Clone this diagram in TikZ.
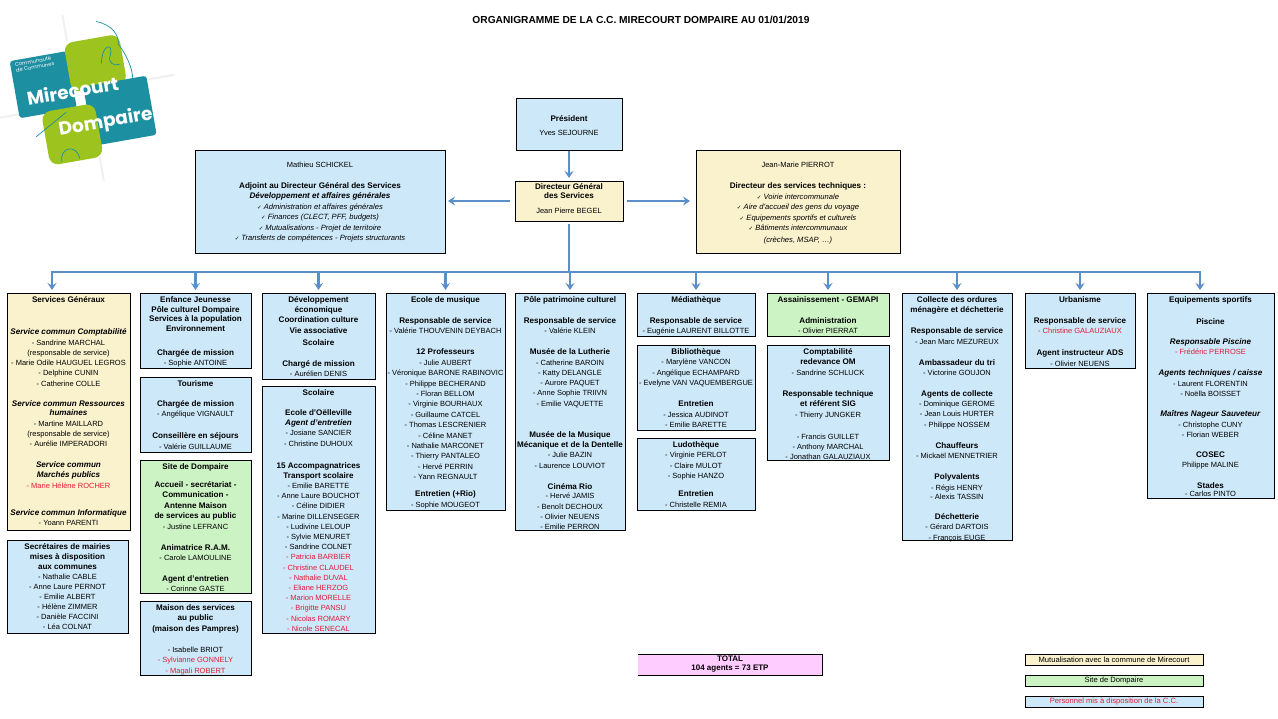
\documentclass[tikz,border=0pt]{standalone}
\usepackage{fontspec}
\setmainfont{Liberation Sans}
\newfontfamily\symf{DejaVu Sans}
\newfontfamily\logof{Poppins}
\usetikzlibrary{arrows.meta,calc}
\definecolor{bfill}{HTML}{CDE8F9}
\definecolor{yfill}{HTML}{FAF1CD}
\definecolor{gfill}{HTML}{CCF3C4}
\definecolor{pfill}{HTML}{FFCCFF}
\definecolor{rtxt}{HTML}{E31B36}
\definecolor{arr}{HTML}{5B8FC8}
\definecolor{logoteal}{HTML}{1C8FA1}
\definecolor{logolime}{HTML}{9DC41E}
\newcommand\Hd[1]{\textbf{#1}}
\newcommand\Bi[1]{\textbf{\textit{#1}}}
\newcommand\Nm[1]{{\fontsize{7.5}{10}\selectfont #1}}
\newcommand\Rn[1]{{\color{rtxt}\fontsize{7.5}{10}\selectfont #1}}
\newcommand\It[1]{{\fontsize{7.6}{10}\selectfont\itshape #1}}
\newcommand\Ck{{\symf\fontsize{5.5}{8}\selectfont ✓}}
\def\myoff{1.4}
\newcommand\Bx[8][10.4]{%
  \pgfmathsetmacro\mybw{#6-#4}%
  \pgfmathsetmacro\mybh{#7-#5}%
  \node[box,#3,minimum width=\mybw pt,minimum height=\mybh pt,anchor=north west] (#2) at (#4,#5) {};
  \node[txt,font=\fontsize{8.1}{#1}\selectfont,anchor=north] (#2t) at ($(#2.north)+(0,\myoff)$) {\rule{0pt}{8pt}#8};}
\begin{document}
\begin{tikzpicture}[x=1pt,y=-1pt,
  box/.style={draw=black,line width=0.8pt,inner sep=0pt,outer sep=0pt},
  bbox/.style={fill=bfill}, ybox/.style={fill=yfill}, gbox/.style={fill=gfill},
  txt/.style={inner sep=0pt,outer sep=0pt,align=center},
  busline/.style={draw=arr,line width=2.4pt},
  arrline/.style={busline,-{Stealth[length=7pt,width=9pt,inset=2.5pt]},shorten >=3pt},
  logoline/.style={draw=logoteal,line width=0.7pt}]
\fill[white] (0,0) rectangle (1278,719);
\useasboundingbox (0,0) rectangle (1278,719);

% ---------- logo ----------
\begin{scope}[shift={(83,97)},rotate=10]
  \draw[black!6,line width=2pt] (-92,6) -- (-66,6);
  \draw[black!6,line width=2pt] (68,-6) -- (94,-6);
  \draw[black!6,line width=2pt] (-6,-58) -- (-6,-84);
  \draw[black!6,line width=2pt] (6,62) -- (6,86);
  \fill[logoteal,rounded corners=3pt] (-66,-48) rectangle (-8,10);
  \fill[logolime,rounded corners=9pt] (-10,-56) rectangle (46,-6);
  \fill[logoteal,rounded corners=3pt] (2,-10) rectangle (66,50);
  \fill[logolime,rounded corners=9pt] (-44,8) rectangle (10,62);
  \draw[logoline] (26,-72) .. controls (42,-66) and (46,-54) .. (44,-46) .. controls (50,-34) and (54,-20) .. (52,-8);
  \draw[logoline] (24,-30) .. controls (28,-50) and (40,-48) .. (34,-36) .. controls (30,-30) and (36,-24) .. (42,-26);
  \draw[logoline] (-32,60) .. controls (-32,45) and (-14,45) .. (-14,60);
  \draw[logoline] (-53,31) -- (-19,12);
  \node[transform shape,text=white,font=\logof\fontsize{5.2}{6}\selectfont,align=left,inner sep=0pt] (lcom) at (-42,-41) {Communauté\\de Communes};
  \node[transform shape,text=white,font=\logof\bfseries\fontsize{18.5}{18.5}\selectfont,inner sep=0pt] (lmire) at (-9,-8) {Mirecourt};
  \node[transform shape,text=white,font=\logof\bfseries\fontsize{18.5}{18.5}\selectfont,inner sep=0pt] (ldomp) at (18,29) {Dompaire};
\end{scope}

% ---------- title ----------
\node[font=\bfseries\fontsize{10.2}{12}\selectfont,inner sep=0pt] (title) at (641,20) {ORGANIGRAMME DE LA C.C. MIRECOURT DOMPAIRE AU 01/01/2019};

% ---------- top ----------
\def\myoff{15.9}
\Bx{pres}{bbox}{516}{98}{622}{150}{\Hd{Président}\\[3.6pt]\Nm{Yves SEJOURNE}}
\def\myoff{0.9}
\Bx{dgs}{ybox}{515}{181}{623}{221}{\Hd{Directeur Général}\\[-1.4pt]\Hd{des Services}\\[4.6pt]\Nm{Jean Pierre BEGEL}}
\def\myoff{9.9}
\Bx{adj}{bbox}{195}{150}{445}{253}{\Nm{Mathieu SCHICKEL}\\[10.6pt]
\Hd{Adjoint au Directeur Général des Services}\\[-0.4pt]
\Bi{Développement et affaires générales}\\
\It{\Ck\ Administration et affaires générales}\\
\It{\Ck\ Finances (CLECT, PFF, budgets)}\\
\It{\Ck\ Mutualisations - Projet de territoire}\\
\It{\Ck\ Transferts de compétences - Projets structurants}}
\Bx{dst}{ybox}{696}{150}{900}{253}{\Nm{Jean-Marie PIERROT}\\[10.6pt]
\Hd{Directeur des services techniques :}\\
\It{\Ck\ Voirie intercommunale}\\
\It{\Ck\ Aire d'accueil des gens du voyage}\\
\It{\Ck\ Equipements sportifs et culturels}\\
\It{\Ck\ Bâtiments intercommunaux}\\[1.6pt]
\It{(crèches, MSAP, …)}}

\def\myoff{1.4}
% ---------- column 1 ----------
\Bx{sg}{ybox}{7}{293}{130}{530}{\Hd{Services Généraux}\\[22pt]
\Bi{Service commun Comptabilité}\\
\Nm{- Sandrine MARCHAL}\\[-0.5pt]
\Nm{(responsable de service)}\\[-0.5pt]
\Nm{- Marie Odile HAUGUEL LEGROS}\\[0.5pt]
\Nm{- Delphine CUNIN}\\
\Nm{- Catherine COLLE}\\[10pt]
\Bi{Service commun Ressources}\\[-1.5pt]
\Bi{humaines}\\
\Nm{- Martine MAILLARD}\\
\Nm{(responsable de service)}\\
\Nm{- Aurélie IMPERADORI}\\[10pt]
\Bi{Service commun}\\
\Bi{Marchés publics}\\
\Rn{- Marie Hélène ROCHER}\\[17.5pt]
\Bi{Service commun Informatique}\\[-1pt]
\Nm{- Yoann PARENTI}}
\Bx[10]{sec}{bbox}{7}{540}{128}{633}{\Hd{Secrétaires de mairies}\\
\Hd{mises à disposition}\\
\Hd{aux communes}\\
\Nm{- Nathalie CABLE}\\
\Nm{- Anne Laure PERNOT}\\
\Nm{- Emilie ALBERT}\\
\Nm{- Hélène ZIMMER}\\
\Nm{- Danièle FACCINI}\\
\Nm{- Léa COLNAT}}

% ---------- column 2 ----------
\Bx[9.7]{enf}{bbox}{140}{293}{251}{368}{\Hd{Enfance Jeunesse}\\
\Hd{Pôle culturel Dompaire}\\
\Hd{Services à la population}\\
\Hd{Environnement}\\[14.3pt]
\Hd{Chargée de mission}\\
\Nm{- Sophie ANTOINE}}
\Bx{tou}{bbox}{140}{377}{251}{452}{\Hd{Tourisme}\\[9.6pt]
\Hd{Chargée de mission}\\
\Nm{- Angélique VIGNAULT}\\[11.6pt]
\Hd{Conseillère en séjours}\\
\Nm{- Valérie GUILLAUME}}
\Bx{sdp}{gbox}{140}{460}{251}{593}{\Hd{Site de Dompaire}\\[7.6pt]
\Hd{Accueil - secrétariat -}\\
\Hd{Communication -}\\
\Hd{Antenne Maison}\\
\Hd{de services au public}\\
\Nm{- Justine LEFRANC}\\[10.6pt]
\Hd{Animatrice R.A.M.}\\
\Nm{- Carole LAMOULINE}\\[10.6pt]
\Hd{Agent d'entretien}\\
\Nm{- Corinne GASTE}}
\Bx{msp}{bbox}{140}{601}{251}{675}{\Hd{Maison des services}\\
\Hd{au public}\\
\Hd{(maison des Pampres)}\\[10.6pt]
\Nm{- Isabelle BRIOT}\\
\Rn{- Sylvianne GONNELY}\\
\Rn{- Magali ROBERT}}

% ---------- column 3 ----------
\Bx[10.3]{dev}{bbox}{262}{293}{375}{379}{\Hd{Développement}\\
\Hd{économique}\\
\Hd{Coordination culture}\\
\Hd{Vie associative}\\[1.5pt]
\Hd{Scolaire}\\[11.5pt]
\Hd{Chargé de mission}\\[-1pt]
\Nm{- Aurélien DENIS}}
\Bx[10.2]{sco}{bbox}{262}{386}{375}{633}{\Hd{Scolaire}\\[9.8pt]
\Hd{Ecole d'Oëlleville}\\
\Bi{Agent d'entretien}\\
\Nm{- Josiane SANCIER}\\
\Nm{- Christine DUHOUX}\\[11.8pt]
\Hd{15 Accompagnatrices}\\
\Hd{Transport scolaire}\\
\Nm{- Emilie BARETTE}\\
\Nm{- Anne Laure BOUCHOT}\\
\Nm{- Céline DIDIER}\\
\Nm{- Marine DILLENSEGER}\\
\Nm{- Ludivine LELOUP}\\
\Nm{- Sylvie MENURET}\\
\Nm{- Sandrine COLNET}\\
\Rn{- Patricia BARBIER}\\
\Rn{- Christine CLAUDEL}\\
\Rn{- Nathalie DUVAL}\\
\Rn{- Eliane HERZOG}\\
\Rn{- Marion MORELLE}\\
\Rn{- Brigitte PANSU}\\
\Rn{- Nicolas ROMARY}\\
\Rn{- Nicole SENECAL}}

% ---------- column 4 ----------
\Bx{mus}{bbox}{386}{293}{505}{510}{\Hd{Ecole de musique}\\[10.6pt]
\Hd{Responsable de service}\\
\Nm{- Valérie THOUVENIN DEYBACH}\\[10.6pt]
\Hd{12 Professeurs}\\
\Nm{- Julie AUBERT}\\
\Nm{- Véronique BARONE RABINOVIC}\\
\Nm{- Philippe BECHERAND}\\
\Nm{- Floran BELLOM}\\
\Nm{- Virginie BOURHAUX}\\
\Nm{- Guillaume CATCEL}\\
\Nm{- Thomas LESCRENIER}\\
\Nm{- Céline MANET}\\
\Nm{- Nathalie MARCONET}\\
\Nm{- Thierry PANTALEO}\\
\Nm{- Hervé PERRIN}\\
\Nm{- Yann REGNAULT}\\[6.6pt]
\Hd{Entretien (+Rio)}\\
\Nm{- Sophie MOUGEOT}}

% ---------- column 5 ----------
\Bx[10.3]{pat}{bbox}{515}{293}{625}{530}{\Hd{Pôle patrimoine culturel}\\[10.7pt]
\Hd{Responsable de service}\\
\Nm{- Valérie KLEIN}\\[10.7pt]
\Hd{Musée de la Lutherie}\\
\Nm{- Catherine BAROIN}\\
\Nm{- Katty DELANGLE}\\
\Nm{- Aurore PAQUET}\\
\Nm{- Anne Sophie TRIIVN}\\
\Nm{- Emilie VAQUETTE}\\[20.7pt]
\Hd{Musée de la Musique}\\
\Hd{Mécanique et de la Dentelle}\\
\Nm{- Julie BAZIN}\\
\Nm{- Laurence LOUVIOT}\\[10.7pt]
\Hd{Cinéma Rio}\\[-0.5pt]
\Nm{- Hervé JAMIS}\\
\Nm{- Benoît DECHOUX}\\
\Nm{- Olivier NEUENS}\\
\Nm{- Emilie PERRON}}

% ---------- column 6 ----------
\Bx{med}{bbox}{637}{293}{755}{336}{\Hd{Médiathèque}\\[10.6pt]
\Hd{Responsable de service}\\
\Nm{- Eugénie LAURENT BILLOTTE}}
\Bx{bib}{bbox}{637}{345}{755}{430}{\Hd{Bibliothèque}\\
\Nm{- Marylène VANCON}\\
\Nm{- Angélique ECHAMPARD}\\
\Nm{- Evelyne VAN VAQUEMBERGUE}\\[10.6pt]
\Hd{Entretien}\\
\Nm{- Jessica AUDINOT}\\
\Nm{- Emilie BARETTE}}
\Bx{lud}{bbox}{637}{438}{755}{510}{\Hd{Ludothèque}\\
\Nm{- Virginie PERLOT}\\
\Nm{- Claire MULOT}\\
\Nm{- Sophie HANZO}\\[7.6pt]
\Hd{Entretien}\\
\Nm{- Christelle REMIA}}

% ---------- column 7 ----------
\Bx{ass}{gbox}{767}{293}{889}{336}{\Hd{Assainissement - GEMAPI}\\[10.6pt]
\Hd{Administration}\\
\Nm{- Olivier PIERRAT}}
\Bx{cpt}{bbox}{767}{345}{889}{460}{\Hd{Comptabilité}\\
\Hd{redevance OM}\\
\Nm{- Sandrine SCHLUCK}\\[10.6pt]
\Hd{Responsable technique}\\
\Hd{et référent SIG}\\
\Nm{- Thierry JUNGKER}\\[11.6pt]
\Nm{- Francis GUILLET}\\
\Nm{- Anthony MARCHAL}\\
\Nm{- Jonathan GALAUZIAUX}}

% ---------- column 8 ----------
\Bx{col}{bbox}{902}{293}{1012}{540}{\Hd{Collecte des ordures}\\
\Hd{ménagère et déchetterie}\\[10.6pt]
\Hd{Responsable de service}\\
\Nm{- Jean Marc MEZUREUX}\\[10.6pt]
\Hd{Ambassadeur du tri}\\
\Nm{- Victorine GOUJON}\\[10pt]
\Hd{Agents de collecte}\\
\Nm{- Dominique GEROME}\\
\Nm{- Jean Louis HURTER}\\
\Nm{- Philippe NOSSEM}\\[10.6pt]
\Hd{Chauffeurs}\\
\Nm{- Mickaël MENNETRIER}\\[10.6pt]
\Hd{Polyvalents}\\
\Nm{- Régis HENRY}\\[-1pt]
\Nm{- Alexis TASSIN}\\[9.6pt]
\Hd{Déchetterie}\\
\Nm{- Gérard DARTOIS}\\
\Nm{- François EUGE}}

% ---------- column 9 ----------
\Bx{urb}{bbox}{1025}{293}{1135}{368}{\Hd{Urbanisme}\\[10.6pt]
\Hd{Responsable de service}\\
\Rn{- Christine GALAUZIAUX}\\[11.6pt]
\Hd{Agent instructeur ADS}\\
\Nm{- Olivier NEUENS}}

% ---------- column 10 ----------
\Bx{spo}{bbox}{1147}{293}{1274}{498}{\Hd{Equipements sportifs}\\[11.6pt]
\Hd{Piscine}\\[9.6pt]
\Bi{Responsable Piscine}\\
\Rn{- Frédéric PERROSE}\\[10.6pt]
\Bi{Agents techniques / caisse}\\
\Nm{- Laurent FLORENTIN}\\
\Nm{- Noëlla BOISSET}\\[9.6pt]
\Bi{Maîtres Nageur Sauveteur}\\
\Nm{- Christophe CUNY}\\
\Nm{- Florian WEBER}\\[9.6pt]
\Hd{COSEC}\\
\Nm{Philippe MALINE}\\[10pt]
\Hd{Stades}\\[-2.4pt]
\Nm{- Carlos PINTO}}

% ---------- connectors ----------
\draw[arrline,shorten <=1pt] (pres.south) -- (dgs.north);
\draw[arrline,shorten <=5pt] (dgs.west) -- (adj.east |- dgs.west);
\draw[arrline,shorten <=4pt,shorten >=6pt] (dgs.east) -- (dst.west |- dgs.east);
\coordinate (busL) at (52,272);
\coordinate (busR) at (1200,272);
\coordinate (busM) at (dgs.south |- 0,272);
\draw[busline,shorten <=3pt] (dgs.south) -- (busM);
\draw[busline,line cap=rect] (busL) -- (busR);
\draw[arrline] (busL) -- (busL |- sg.north);
\draw[arrline] (busR) -- (busR |- spo.north);
\foreach \b in {enf,dev,mus,pat,med,ass,col,urb}
  \draw[arrline] (\b.north |- busM) -- (\b.north);

% ---------- legend ----------
\node[fill=pfill,minimum width=184pt,minimum height=21pt,anchor=north west,inner sep=0pt,outer sep=0pt] (tot) at (638,654) {};
\draw[line width=0.8pt] (tot.north west) -- (tot.north east) -- (tot.south east) -- (tot.south west);
\node[txt,font=\bfseries\fontsize{8}{9}\selectfont] (tott) at (tot.center) {TOTAL\\104 agents = 73 ETP};
\node[box,ybox,minimum width=178pt,minimum height=11pt,anchor=north west,font=\fontsize{7.6}{9}\selectfont] (lg1) at (1025,654) {Mutualisation avec la commune de Mirecourt};
\node[box,gbox,minimum width=178pt,minimum height=11pt,anchor=north west,font=\fontsize{7.6}{9}\selectfont] (lg2) at (1025,675) {Site de Dompaire};
\node[box,bbox,minimum width=178pt,minimum height=11pt,anchor=north west,font=\fontsize{7.6}{9}\selectfont,text=rtxt] (lg3) at (1025,696) {Personnel mis à disposition de la C.C.};
\end{tikzpicture}
\end{document}
